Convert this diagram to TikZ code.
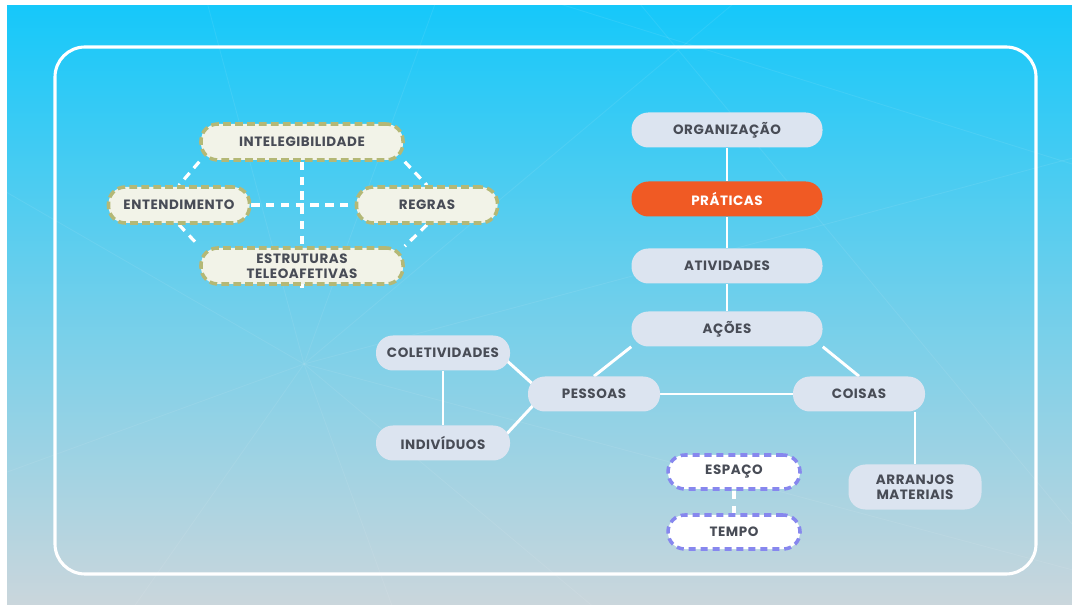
\documentclass[tikz,border=0pt]{standalone}
\usepackage{fontspec}
\setmainfont{Poppins}[LetterSpace=4]
\usetikzlibrary{backgrounds,calc}

\definecolor{skytop}{RGB}{22,200,250}
\definecolor{skymid}{RGB}{95,206,236}
\definecolor{skybot}{RGB}{202,214,220}
\definecolor{boxfill}{RGB}{220,228,240}
\definecolor{boxtext}{RGB}{72,76,86}
\definecolor{praticas}{RGB}{240,90,36}
\definecolor{olive}{RGB}{180,184,118}
\definecolor{olivefill}{RGB}{242,243,232}
\definecolor{lilac}{RGB}{135,135,238}

\tikzset{
  conceito/.style={rectangle, rounded corners=0.42cm, fill=boxfill, text=boxtext,
    font=\bfseries\fontsize{9.6}{10.8}\selectfont, align=center, inner sep=0pt,
    minimum height=0.875cm},
  largo/.style={conceito, minimum width=4.775cm},
  curto/.style={conceito, minimum width=3.35cm},
  destaque/.style={largo, fill=praticas, text=white},
  teoria/.style={conceito, fill=olivefill, draw=olive, line width=2.5pt,
    dash pattern=on 5.5pt off 3pt, minimum height=0.9cm},
  contexto/.style={curto, fill=white, draw=lilac, line width=2.5pt,
    dash pattern=on 5pt off 3.5pt, minimum height=0.85cm},
  ligacao/.style={draw=white, line width=2.1pt},
  tracejado/.style={draw=white, line width=2.3pt, dash pattern=on 6pt off 4.5pt},
}

\begin{document}
\begin{tikzpicture}
\useasboundingbox (0,0) rectangle (26.8,15.1);
\begin{scope}[on background layer]
\fill[white] (0,0) rectangle (26.8,15.1);
\shade[top color=skytop, middle color=skymid, bottom color=skybot] (0.175,0) rectangle (26.8,14.95);
\begin{scope}
\clip (0.175,0) rectangle (26.8,14.95);
\foreach \a in {15,40,70,105,150,200,235,290,320,345}
  \draw[white, opacity=0.08, line width=0.6pt] (7.6,6) -- ++(\a:30);
\draw[white, opacity=0.08, line width=0.6pt] (14,15) -- (26.8,11);
\draw[white, opacity=0.08, line width=0.6pt] (16,15) -- (26.8,2);
\end{scope}
\draw[white, line width=2.2pt, rounded corners=0.75cm] (1.375,0.75) rectangle (25.9,13.925);
\end{scope}

\node[teoria, minimum width=5.05cm] (intel) at (7.55,11.55) {INTELEGIBILIDADE};
\node[teoria, minimum width=3.525cm] (entend) at (4.475,9.975) {ENTENDIMENTO};
\node[teoria, minimum width=3.525cm] (regras) at (10.675,9.975) {REGRAS};
\node[teoria, minimum width=5.05cm] (estrut) at (7.55,8.45) {ESTRUTURAS\\TELEOAFETIVAS};

\node[largo] (org) at (18.175,11.85) {ORGANIZAÇÃO};
\node[destaque] (prat) at (18.175,10.125) {PRÁTICAS};
\node[largo] (ativ) at (18.175,8.45) {ATIVIDADES};
\node[largo] (acoes) at (18.175,6.875) {AÇÕES};
\node[curto] (colet) at (11.075,6.275) {COLETIVIDADES};
\node[curto, minimum width=3.3cm] (pess) at (14.85,5.25) {PESSOAS};
\node[curto, minimum width=3.3cm] (coisas) at (21.475,5.25) {COISAS};
\node[curto] (indiv) at (11.075,4.025) {INDIVÍDUOS};
\node[curto, minimum width=3.325cm, minimum height=1.125cm] (arranjos) at (22.875,2.925) {ARRANJOS\\MATERIAIS};
\node[contexto, minimum width=3.3cm] (espaco) at (18.35,3.3) {ESPAÇO};
\node[contexto, minimum width=3.3cm] (tempo) at (18.35,1.8) {TEMPO};

\begin{scope}[on background layer]
\draw[tracejado] (intel.south west) -- (entend.north);
\draw[tracejado] (entend.south) -- (estrut.north west);
\draw[tracejado] (intel.south east) -- (regras.north);
\draw[tracejado] (regras.south) -- (estrut.north east);
\draw[tracejado] (intel.south) -- ([yshift=-0.15cm]estrut.south);
\draw[tracejado] (entend.east) -- (regras.west);
\draw[tracejado] (espaco) -- (tempo);
\draw[ligacao] (org) -- (prat);
\draw[ligacao] (prat) -- (ativ);
\draw[ligacao] (ativ) -- (acoes);
\draw[ligacao] (acoes.south west) -- (pess.north);
\draw[ligacao] (acoes.south east) -- (coisas.north);
\draw[ligacao] (pess) -- (coisas);
\draw[ligacao] ($(colet.east)+(-0.3,0)$) -- ($(pess.west)+(0.4,0)$);
\draw[ligacao] ($(indiv.east)+(-0.3,0)$) -- ($(pess.west)+(0.4,0)$);
\draw[ligacao] (colet) -- (indiv);
\draw[ligacao] (arranjos.north |- coisas.south) -- (arranjos.north);
\end{scope}
\end{tikzpicture}
\end{document}
